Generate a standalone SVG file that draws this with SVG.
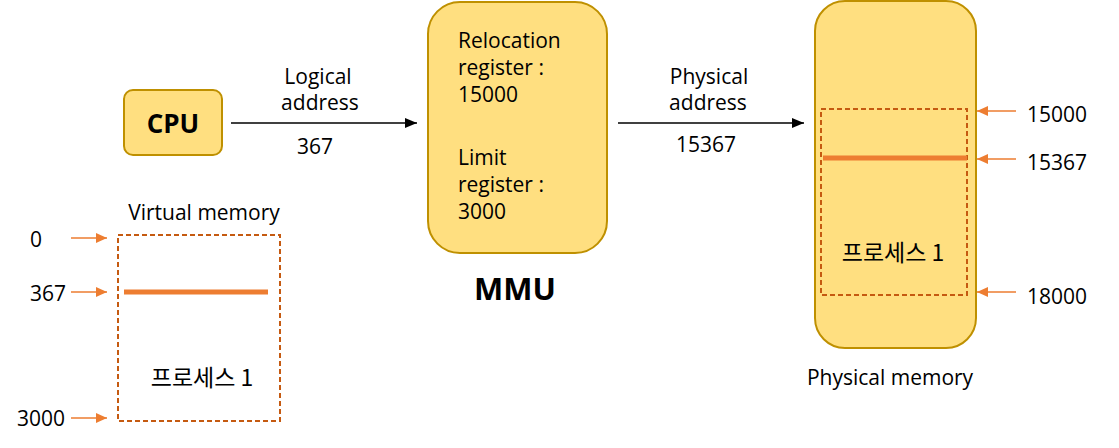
<svg xmlns="http://www.w3.org/2000/svg" width="1119" height="448" viewBox="0 0 1119 448">
<defs>
<style>
text{font-family:"Open Sans","Noto Sans CJK KR",sans-serif;font-size:21px;fill:#000}
text.cpu{font-weight:bold;font-size:26px}
text.mmu{font-weight:bold;font-size:31px}
text.kr{font-family:"Noto Sans CJK KR",sans-serif;font-size:23px}
.box{fill:#FFDF80;stroke:#BF9000;stroke-width:2}
.dash{fill:none;stroke:#C55A11;stroke-width:2;stroke-dasharray:5 3}
.bar{stroke:#ED7D31;stroke-width:5}
.conn{stroke:#000;stroke-width:1.3;fill:none}
.oc{stroke:#ED7D31;stroke-width:1.3;fill:none}
</style>
<marker id="ah" viewBox="0 0 12 10" refX="12" refY="5" markerWidth="12" markerHeight="10" markerUnits="userSpaceOnUse" orient="auto"><path d="M0,0L12,5L0,10z" fill="#000"/></marker>
<marker id="oh" viewBox="0 0 11 10" refX="11" refY="5" markerWidth="11" markerHeight="10" markerUnits="userSpaceOnUse" orient="auto"><path d="M0,0L11,5L0,10z" fill="#ED7D31"/></marker>
</defs>
<g id="cpu">
<rect class="box" x="124" y="90" width="98" height="65" rx="9"/>
<text class="cpu" x="173" y="133" text-anchor="middle">CPU</text>
</g>
<g id="mmu">
<rect class="box" x="428" y="2" width="179" height="251" rx="32"/>
<text x="458" y="48">Relocation</text>
<text x="458" y="75">register :</text>
<text x="458" y="102">15000</text>
<text x="458" y="165">Limit</text>
<text x="458" y="192">register :</text>
<text x="458" y="219">3000</text>
<text class="mmu" x="515" y="300" text-anchor="middle">MMU</text>
</g>
<g id="physical-memory">
<rect class="box" x="815" y="1" width="161" height="347" rx="30"/>
<rect class="dash" x="821" y="109" width="146" height="186"/>
<line class="bar" x1="823" y1="158" x2="967" y2="158"/>
<text class="kr" x="893" y="261" text-anchor="middle">프로세스 1</text>
<text x="890" y="385" text-anchor="middle">Physical memory</text>
<text x="1027" y="122">15000</text>
<text x="1027" y="170">15367</text>
<text x="1027" y="304">18000</text>
</g>
<g id="virtual-memory">
<rect class="dash" x="118" y="235" width="162" height="186"/>
<line class="bar" x1="124" y1="292" x2="268" y2="292"/>
<text x="204" y="220" text-anchor="middle">Virtual memory</text>
<text class="kr" x="202" y="386" text-anchor="middle">프로세스 1</text>
<text x="30" y="247">0</text>
<text x="66" y="301" text-anchor="end">367</text>
<text x="65" y="426" text-anchor="end">3000</text>
</g>
<g id="connectors">
<line class="conn" x1="231" y1="123" x2="417" y2="123" marker-end="url(#ah)"/>
<text x="318" y="84" text-anchor="middle">Logical</text>
<text x="320" y="110" text-anchor="middle">address</text>
<text x="315" y="154" text-anchor="middle">367</text>
<line class="conn" x1="618" y1="123" x2="804" y2="123" marker-end="url(#ah)"/>
<text x="709" y="84" text-anchor="middle">Physical</text>
<text x="708" y="110" text-anchor="middle">address</text>
<text x="706" y="152" text-anchor="middle">15367</text>
<line class="oc" x1="1016" y1="111" x2="977" y2="111" marker-end="url(#oh)"/>
<line class="oc" x1="1016" y1="159" x2="977" y2="159" marker-end="url(#oh)"/>
<line class="oc" x1="1016" y1="292" x2="977" y2="292" marker-end="url(#oh)"/>
<line class="oc" x1="71" y1="238" x2="107" y2="238" marker-end="url(#oh)"/>
<line class="oc" x1="71" y1="292" x2="107" y2="292" marker-end="url(#oh)"/>
<line class="oc" x1="71" y1="418" x2="107" y2="418" marker-end="url(#oh)"/>
</g>
</svg>
